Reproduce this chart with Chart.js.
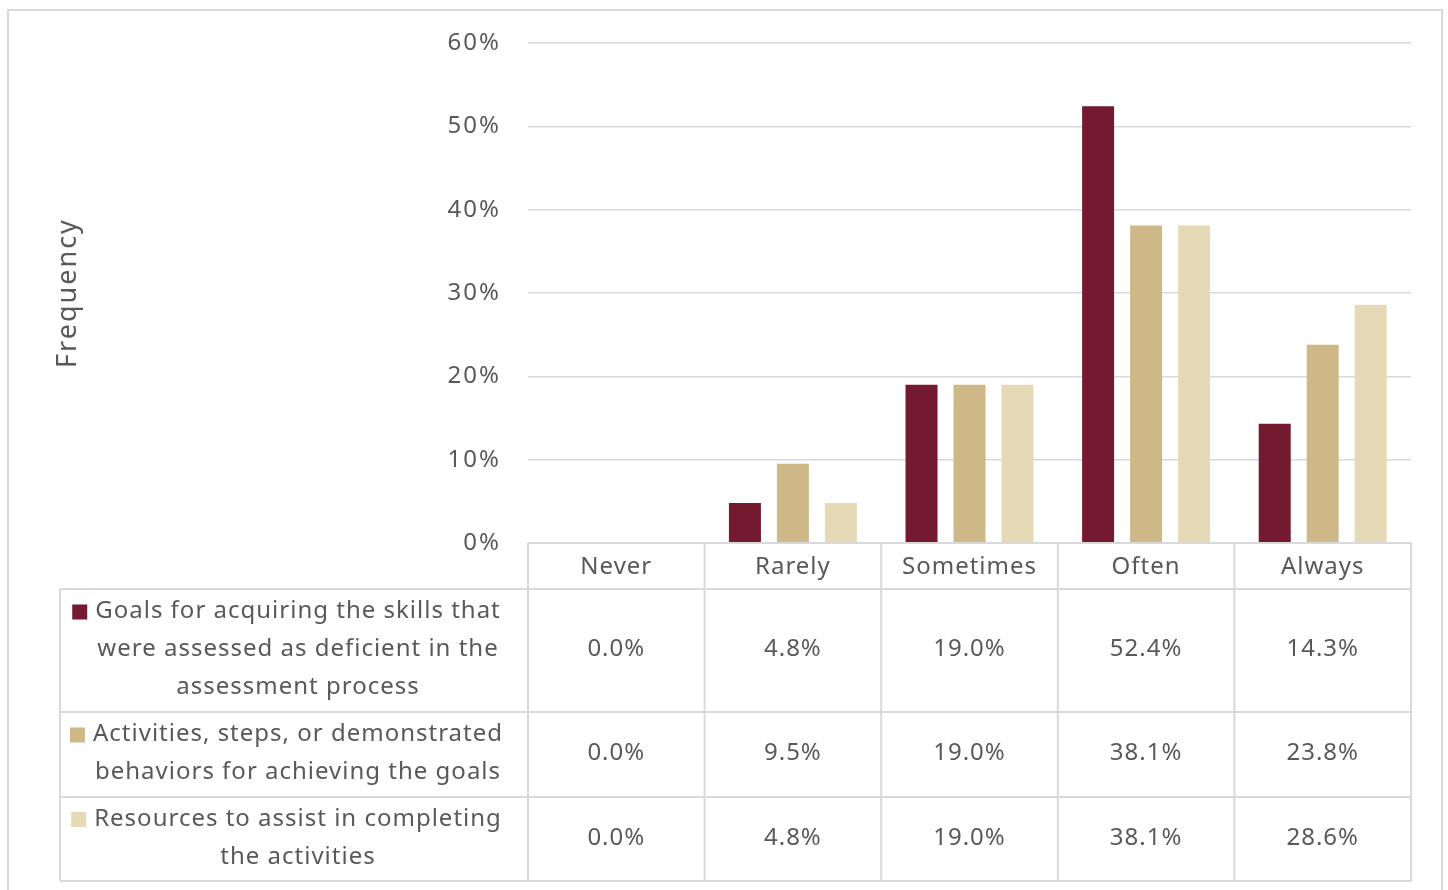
<!DOCTYPE html>
<html>
<head>
<meta charset="utf-8">
<script src="https://cdn.jsdelivr.net/npm/chart.js@4.4.1/dist/chart.umd.min.js"></script>
<style>
  html, body { margin: 0; padding: 0; background: #fff; }
  canvas { display: block; }
</style>
</head>
<body>
<canvas id="freqChart" width="1448" height="890"></canvas>
<script>
// survey answers and share of respondents (%)
var categories = ['Never', 'Rarely', 'Sometimes', 'Often', 'Always'];
var goals = [0.0, 4.8, 19.0, 52.4, 14.3];
var activities = [0.0, 9.5, 19.0, 38.1, 23.8];
var resources = [0.0, 4.8, 19.0, 38.1, 28.6];
var yTicks = [0, 10, 20, 30, 40, 50, 60];

// row labels for the data table, already broken into lines
var seriesLines = [
    ['Goals for acquiring the skills that', 'were assessed as deficient in the', 'assessment process'],
    ['Activities, steps, or demonstrated', 'behaviors for achieving the goals'],
    ['Resources to assist in completing', 'the activities']
];

var colors = ['#731930', '#ceb888', '#e6dab6'];
var textColor = '#595959';
var lineColor = '#d9d9d9';
var fontFamily = '"Noto Sans", Lato, sans-serif';

// draws the frame and the data table under the plot
var dataTable = {
    id: 'dataTable',
    beforeDraw: function (chart) {
        var ctx = chart.ctx;
        ctx.save();
        ctx.fillStyle = '#fff';
        ctx.fillRect(0, 0, chart.width, chart.height);
        ctx.strokeStyle = lineColor;
        ctx.lineWidth = 2;
        ctx.strokeRect(8, 10, 1434, 890);
        ctx.restore();
        // a little tracking for the axis text drawn by the scale
        ctx.letterSpacing = '2px';
    },
    afterDraw: function (chart) {
        var ctx = chart.ctx;
        var area = chart.chartArea;
        var xs = chart.scales.x;
        var half = (area.right - area.left) / categories.length / 2;
        var top = area.bottom;
        var rows = [top, top + 46, top + 169, top + 254, top + 338];
        var labelLeft = 60;
        var labelCenter = 298;

        ctx.save();
        ctx.strokeStyle = lineColor;
        ctx.lineWidth = 2;
        ctx.beginPath();
        // horizontal rules
        ctx.moveTo(area.left, rows[0]); ctx.lineTo(area.right, rows[0]);
        for (var r = 1; r < rows.length; r++) {
            ctx.moveTo(labelLeft, rows[r]); ctx.lineTo(area.right, rows[r]);
        }
        // vertical rules
        ctx.moveTo(labelLeft, rows[1]); ctx.lineTo(labelLeft, rows[4]);
        for (var c = 0; c < categories.length; c++) {
            var left = xs.getPixelForValue(c) - half;
            ctx.moveTo(left, rows[0]); ctx.lineTo(left, rows[4]);
        }
        ctx.moveTo(area.right, rows[0]); ctx.lineTo(area.right, rows[4]);
        ctx.stroke();

        ctx.font = '24px ' + fontFamily;
        ctx.letterSpacing = '1px';
        ctx.fillStyle = textColor;
        ctx.textAlign = 'center';
        ctx.textBaseline = 'middle';

        // header: category names
        categories.forEach(function (name, i) {
            ctx.fillText(name, xs.getPixelForValue(i), (rows[0] + rows[1]) / 2 + 1);
        });

        // one row per dataset
        chart.data.datasets.forEach(function (ds, d) {
            var mid = (rows[d + 1] + rows[d + 2]) / 2 - 1;
            ds.data.forEach(function (v, i) {
                ctx.fillStyle = textColor;
                ctx.fillText(v.toFixed(1) + '%', xs.getPixelForValue(i), mid);
            });
            var lines = seriesLines[d];
            var firstY = mid - (lines.length - 1) * 38 / 2;
            lines.forEach(function (line, k) {
                ctx.fillStyle = textColor;
                ctx.fillText(line, labelCenter, firstY + k * 38);
            });
            var w = ctx.measureText(lines[0]).width;
            ctx.fillStyle = ds.backgroundColor;
            ctx.fillRect(labelCenter - w / 2 - 23, firstY - 7, 15, 15);
        });
        ctx.restore();
    }
};

var ctx = document.getElementById('freqChart');
var freqChart = new Chart(ctx, {
    type: 'bar',
    data: {
        labels: categories,
        datasets: [{
            label: seriesLines[0].join(' '),
            data: goals,
            backgroundColor: colors[0]
        }, {
            label: seriesLines[1].join(' '),
            data: activities,
            backgroundColor: colors[1]
        }, {
            label: seriesLines[2].join(' '),
            data: resources,
            backgroundColor: colors[2]
        }]
    },
    options: {
        responsive: false,
        animation: false,
        devicePixelRatio: 1,
        layout: {
            padding: { left: 0, top: 43, right: 37, bottom: 347 }
        },
        categoryPercentage: 0.815,
        barPercentage: 0.667,
        plugins: {
            legend: { display: false },
            tooltip: { enabled: false }
        },
        scales: {
            x: { display: false },
            y: {
                min: 0,
                max: 60,
                afterFit: function (scale) { scale.width = 528; },
                afterBuildTicks: function (scale) {
                    scale.ticks = yTicks.map(function (v) { return { value: v }; });
                },
                border: { display: false },
                grid: { color: lineColor, lineWidth: 1.5, drawTicks: false },
                ticks: {
                    padding: 27,
                    color: textColor,
                    font: { family: fontFamily, size: 24 },
                    callback: function (v) { return v + '%'; }
                },
                title: {
                    display: true,
                    text: 'Frequency',
                    color: textColor,
                    font: { family: fontFamily, size: 27 },
                    padding: { top: 52, bottom: 0 }
                }
            }
        }
    },
    plugins: [dataTable]
});
</script>
</body>
</html>
